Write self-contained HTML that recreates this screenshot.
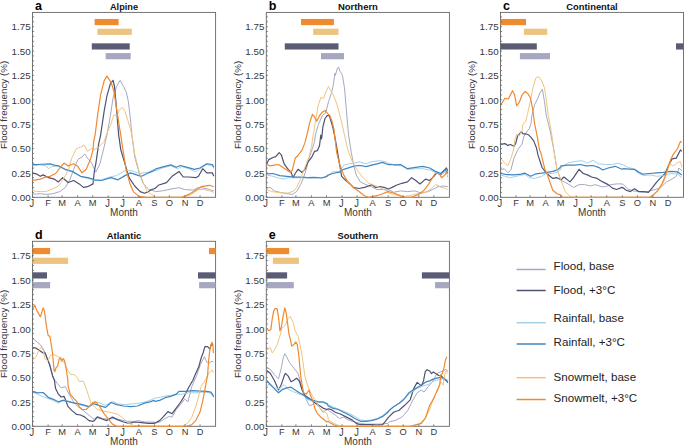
<!DOCTYPE html><html><head><meta charset="utf-8"><style>html,body{margin:0;padding:0;background:#fff;}svg{display:block}</style></head><body>
<svg width="685" height="446" viewBox="0 0 685 446" style="font-family:'Liberation Sans', sans-serif">
<rect width="685" height="446" fill="#fff"/>
<rect x="32.5" y="12.4" width="183.1" height="184.9" fill="none" stroke="#666" stroke-width="0.9"/>
<g clip-path="url(#clipa)">
<path d="M32.0,194.1 L36.2,194.1 L40.3,193.7 L45.9,194.4 L52.8,193.7 L59.8,191.6 L65.3,187.4 L69.5,180.5 L73.7,169.3 L77.9,159.6 L82.0,156.8 L84.8,154.1 L87.6,158.2 L91.7,163.1 L95.8,172.1 L99.9,163.8 L103.4,149.9 L106.9,135.1 L110.4,115.7 L113.1,97.6 L116.6,86.5 L120.1,80.3 L123.6,86.5 L126.3,92.1 L128.4,101.8 L130.5,119.9 L131.9,135.1 L134.7,156.8 L138.9,172.1 L143.0,183.2 L148.6,189.5 L154.0,190.9 L155.4,191.6 L162.3,190.9 L172.1,188.8 L179.0,187.7 L184.6,189.5 L192.9,190.2 L198.5,187.4 L204.0,188.1 L209.6,189.5 L213.8,190.9" fill="none" stroke="#a5a8c2" stroke-width="1.0" stroke-linejoin="round"/>
<path d="M32.0,173.2 L36.2,173.8 L40.3,176.3 L43.1,174.9 L48.7,177.7 L54.2,179.1 L58.4,181.9 L62.6,177.7 L68.1,182.5 L73.7,180.5 L79.2,183.9 L83.4,187.4 L87.6,186.7 L93.0,183.9 L94.4,170.7 L95.8,163.8 L98.6,144.3 L100.6,135.1 L104.1,111.5 L106.9,96.2 L110.4,83.7 L113.1,80.3 L114.5,86.5 L115.9,101.8 L117.3,118.5 L118.7,135.1 L120.8,149.9 L125.0,163.8 L129.1,177.7 L134.7,186.0 L140.2,191.6 L144.4,193.2 L148.6,191.6 L151.4,189.5 L154.0,188.8 L155.4,188.1 L158.2,185.3 L166.5,182.6 L172.1,176.3 L179.0,171.4 L183.2,177.0 L188.8,177.0 L195.7,177.7 L198.5,176.3 L202.7,168.7 L206.8,172.8 L212.4,172.8 L213.8,176.3" fill="none" stroke="#4e5172" stroke-width="1.2" stroke-linejoin="round"/>
<path d="M32.0,165.2 L40.3,164.9 L45.9,165.9 L48.7,168.7 L51.5,166.6 L58.4,165.9 L65.3,170.0 L72.3,171.8 L80.6,176.6 L87.6,178.4 L93.0,179.8 L94.4,180.5 L101.3,179.8 L109.7,177.0 L116.6,175.6 L125.0,170.7 L131.9,170.7 L138.9,173.5 L148.6,172.1 L154.0,169.3 L155.4,171.0 L162.3,168.0 L170.7,165.9 L177.6,168.7 L181.8,166.6 L188.8,168.7 L195.7,171.9 L201.3,168.0 L206.8,164.5 L212.4,165.9 L213.8,168.7" fill="none" stroke="#a6d0e6" stroke-width="1.0" stroke-linejoin="round"/>
<path d="M32.0,164.5 L37.6,164.5 L50.1,163.8 L54.2,165.2 L58.4,165.9 L65.3,169.3 L72.3,171.4 L80.6,176.3 L87.6,177.7 L93.0,179.1 L94.4,179.8 L101.3,180.5 L111.1,177.7 L118.0,179.8 L125.0,175.6 L130.5,172.8 L138.9,175.6 L141.6,176.3 L148.6,172.8 L154.0,170.7 L155.4,169.1 L161.0,167.3 L170.7,164.9 L176.2,167.3 L180.4,165.5 L187.4,167.3 L194.3,169.4 L199.9,168.0 L206.8,163.8 L212.4,164.5 L213.8,167.3" fill="none" stroke="#3f86c0" stroke-width="1.25" stroke-linejoin="round"/>
<path d="M32.0,190.2 L36.2,191.3 L40.3,191.6 L45.9,191.6 L52.8,188.8 L58.4,186.0 L62.6,180.5 L68.1,170.7 L72.3,156.8 L76.5,148.5 L80.6,147.1 L84.1,145.0 L87.6,151.3 L91.7,148.5 L93.7,149.9 L98.6,147.1 L104.1,141.6 L106.2,135.1 L110.4,125.4 L113.8,115.0 L116.6,115.7 L119.4,110.1 L122.2,107.3 L125.0,111.5 L127.7,119.9 L130.5,129.6 L131.9,135.1 L134.7,154.1 L138.9,170.7 L143.0,181.9 L147.2,191.6 L151.4,194.4 L154.0,195.7 L155.4,197.3 L181.8,197.3 L190.1,195.1 L198.5,189.5 L204.0,189.5 L209.6,190.9 L213.8,192.3" fill="none" stroke="#eec47e" stroke-width="1.0" stroke-linejoin="round"/>
<path d="M32.0,180.5 L36.2,179.8 L40.3,179.1 L45.9,177.0 L50.1,176.3 L55.6,173.5 L59.8,168.0 L64.0,163.1 L68.1,165.9 L73.7,163.8 L77.9,166.6 L82.0,172.8 L86.2,169.3 L90.4,159.6 L93.0,149.9 L93.7,141.6 L95.1,135.1 L97.9,112.9 L100.6,94.8 L104.1,80.9 L106.9,76.1 L111.1,82.3 L113.8,90.7 L116.6,108.7 L119.4,126.8 L120.8,135.1 L122.9,149.9 L126.3,170.7 L129.8,183.2 L133.3,191.6 L138.9,196.4 L145.8,197.3 L154.0,197.3 L155.4,197.3 L181.8,197.3 L188.8,194.4 L195.7,190.2 L201.3,186.7 L209.6,185.3 L213.8,186.7" fill="none" stroke="#ef8a30" stroke-width="1.2" stroke-linejoin="round"/>
</g>
<clipPath id="clipa"><rect x="32.5" y="12.4" width="183.1" height="185.3"/></clipPath>
<rect x="94.60" y="18.95" width="24.00" height="6.2" fill="#ef8a2f"/>
<rect x="97.40" y="28.70" width="34.40" height="6.2" fill="#edc47f"/>
<rect x="91.80" y="43.33" width="37.90" height="6.2" fill="#595c74"/>
<rect x="105.70" y="53.08" width="25.00" height="6.2" fill="#a5a8c0"/>
<line x1="32.5" y1="197.3" x2="34.1" y2="197.3" stroke="#666" stroke-width="0.8"/>
<line x1="32.5" y1="192.4" x2="34.1" y2="192.4" stroke="#666" stroke-width="0.8"/>
<line x1="32.5" y1="187.6" x2="34.1" y2="187.6" stroke="#666" stroke-width="0.8"/>
<line x1="32.5" y1="182.7" x2="34.1" y2="182.7" stroke="#666" stroke-width="0.8"/>
<line x1="32.5" y1="177.8" x2="34.1" y2="177.8" stroke="#666" stroke-width="0.8"/>
<line x1="32.5" y1="172.9" x2="34.1" y2="172.9" stroke="#666" stroke-width="0.8"/>
<line x1="32.5" y1="168.1" x2="34.1" y2="168.1" stroke="#666" stroke-width="0.8"/>
<line x1="32.5" y1="163.2" x2="34.1" y2="163.2" stroke="#666" stroke-width="0.8"/>
<line x1="32.5" y1="158.3" x2="34.1" y2="158.3" stroke="#666" stroke-width="0.8"/>
<line x1="32.5" y1="153.4" x2="34.1" y2="153.4" stroke="#666" stroke-width="0.8"/>
<line x1="32.5" y1="148.6" x2="34.1" y2="148.6" stroke="#666" stroke-width="0.8"/>
<line x1="32.5" y1="143.7" x2="34.1" y2="143.7" stroke="#666" stroke-width="0.8"/>
<line x1="32.5" y1="138.8" x2="34.1" y2="138.8" stroke="#666" stroke-width="0.8"/>
<line x1="32.5" y1="133.9" x2="34.1" y2="133.9" stroke="#666" stroke-width="0.8"/>
<line x1="32.5" y1="129.1" x2="34.1" y2="129.1" stroke="#666" stroke-width="0.8"/>
<line x1="32.5" y1="124.2" x2="34.1" y2="124.2" stroke="#666" stroke-width="0.8"/>
<line x1="32.5" y1="119.3" x2="34.1" y2="119.3" stroke="#666" stroke-width="0.8"/>
<line x1="32.5" y1="114.4" x2="34.1" y2="114.4" stroke="#666" stroke-width="0.8"/>
<line x1="32.5" y1="109.6" x2="34.1" y2="109.6" stroke="#666" stroke-width="0.8"/>
<line x1="32.5" y1="104.7" x2="34.1" y2="104.7" stroke="#666" stroke-width="0.8"/>
<line x1="32.5" y1="99.8" x2="34.1" y2="99.8" stroke="#666" stroke-width="0.8"/>
<line x1="32.5" y1="94.9" x2="34.1" y2="94.9" stroke="#666" stroke-width="0.8"/>
<line x1="32.5" y1="90.0" x2="34.1" y2="90.0" stroke="#666" stroke-width="0.8"/>
<line x1="32.5" y1="85.2" x2="34.1" y2="85.2" stroke="#666" stroke-width="0.8"/>
<line x1="32.5" y1="80.3" x2="34.1" y2="80.3" stroke="#666" stroke-width="0.8"/>
<line x1="32.5" y1="75.4" x2="34.1" y2="75.4" stroke="#666" stroke-width="0.8"/>
<line x1="32.5" y1="70.6" x2="34.1" y2="70.6" stroke="#666" stroke-width="0.8"/>
<line x1="32.5" y1="65.7" x2="34.1" y2="65.7" stroke="#666" stroke-width="0.8"/>
<line x1="32.5" y1="60.8" x2="34.1" y2="60.8" stroke="#666" stroke-width="0.8"/>
<line x1="32.5" y1="55.9" x2="34.1" y2="55.9" stroke="#666" stroke-width="0.8"/>
<line x1="32.5" y1="51.1" x2="34.1" y2="51.1" stroke="#666" stroke-width="0.8"/>
<line x1="32.5" y1="46.2" x2="34.1" y2="46.2" stroke="#666" stroke-width="0.8"/>
<line x1="32.5" y1="41.3" x2="34.1" y2="41.3" stroke="#666" stroke-width="0.8"/>
<line x1="32.5" y1="36.4" x2="34.1" y2="36.4" stroke="#666" stroke-width="0.8"/>
<line x1="32.5" y1="31.5" x2="34.1" y2="31.5" stroke="#666" stroke-width="0.8"/>
<line x1="32.5" y1="26.7" x2="34.1" y2="26.7" stroke="#666" stroke-width="0.8"/>
<line x1="32.5" y1="21.8" x2="34.1" y2="21.8" stroke="#666" stroke-width="0.8"/>
<line x1="32.5" y1="16.9" x2="34.1" y2="16.9" stroke="#666" stroke-width="0.8"/>
<text x="30.6" y="201.0" font-size="9.8" fill="#383838" text-anchor="end">0.00</text>
<text x="30.6" y="176.6" font-size="9.8" fill="#383838" text-anchor="end">0.25</text>
<text x="30.6" y="152.2" font-size="9.8" fill="#383838" text-anchor="end">0.50</text>
<text x="30.6" y="127.9" font-size="9.8" fill="#383838" text-anchor="end">0.75</text>
<text x="30.6" y="103.5" font-size="9.8" fill="#383838" text-anchor="end">1.00</text>
<text x="30.6" y="79.1" font-size="9.8" fill="#383838" text-anchor="end">1.25</text>
<text x="30.6" y="54.8" font-size="9.8" fill="#383838" text-anchor="end">1.50</text>
<text x="30.6" y="30.4" font-size="9.8" fill="#383838" text-anchor="end">1.75</text>
<line x1="32.5" y1="197.3" x2="32.5" y2="195.3" stroke="#666" stroke-width="0.8"/>
<text transform="translate(0,199.80) scale(1,1.24) translate(0,-199.80)" x="31.9" y="205.9" font-size="9.3" fill="#383838" text-anchor="middle">J</text>
<line x1="48.1" y1="197.3" x2="48.1" y2="195.3" stroke="#666" stroke-width="0.8"/>
<text x="48.1" y="205.9" font-size="9.3" fill="#383838" text-anchor="middle">F</text>
<line x1="62.1" y1="197.3" x2="62.1" y2="195.3" stroke="#666" stroke-width="0.8"/>
<text x="62.1" y="205.9" font-size="9.3" fill="#383838" text-anchor="middle">M</text>
<line x1="77.6" y1="197.3" x2="77.6" y2="195.3" stroke="#666" stroke-width="0.8"/>
<text x="77.6" y="205.9" font-size="9.3" fill="#383838" text-anchor="middle">A</text>
<line x1="92.7" y1="197.3" x2="92.7" y2="195.3" stroke="#666" stroke-width="0.8"/>
<text x="92.7" y="205.9" font-size="9.3" fill="#383838" text-anchor="middle">M</text>
<line x1="108.2" y1="197.3" x2="108.2" y2="195.3" stroke="#666" stroke-width="0.8"/>
<text transform="translate(0,199.80) scale(1,1.24) translate(0,-199.80)" x="107.6" y="205.9" font-size="9.3" fill="#383838" text-anchor="middle">J</text>
<line x1="123.3" y1="197.3" x2="123.3" y2="195.3" stroke="#666" stroke-width="0.8"/>
<text transform="translate(0,199.80) scale(1,1.24) translate(0,-199.80)" x="122.7" y="205.9" font-size="9.3" fill="#383838" text-anchor="middle">J</text>
<line x1="138.8" y1="197.3" x2="138.8" y2="195.3" stroke="#666" stroke-width="0.8"/>
<text x="138.8" y="205.9" font-size="9.3" fill="#383838" text-anchor="middle">A</text>
<line x1="154.4" y1="197.3" x2="154.4" y2="195.3" stroke="#666" stroke-width="0.8"/>
<text x="154.4" y="205.9" font-size="9.3" fill="#383838" text-anchor="middle">S</text>
<line x1="169.4" y1="197.3" x2="169.4" y2="195.3" stroke="#666" stroke-width="0.8"/>
<text x="169.4" y="205.9" font-size="9.3" fill="#383838" text-anchor="middle">O</text>
<line x1="185.0" y1="197.3" x2="185.0" y2="195.3" stroke="#666" stroke-width="0.8"/>
<text x="185.0" y="205.9" font-size="9.3" fill="#383838" text-anchor="middle">N</text>
<line x1="200.0" y1="197.3" x2="200.0" y2="195.3" stroke="#666" stroke-width="0.8"/>
<text x="200.0" y="205.9" font-size="9.3" fill="#383838" text-anchor="middle">D</text>
<text x="124.0" y="215.9" font-size="10" fill="#383838" text-anchor="middle">Month</text>
<text transform="translate(7.4,104.9) rotate(-90)" font-size="9.8" fill="#383838" text-anchor="middle">Flood frequency (%)</text>
<text x="124.0" y="9.6" font-size="8.2" font-weight="bold" fill="#111" text-anchor="middle" textLength="27.99" lengthAdjust="spacingAndGlyphs">Alpine</text>
<text x="35.0" y="10.4" font-size="12.5" font-weight="bold" fill="#000">a</text>
<rect x="266.3" y="12.4" width="183.09999999999997" height="184.9" fill="none" stroke="#666" stroke-width="0.9"/>
<g clip-path="url(#clipb)">
<path d="M266.7,188.1 L270.2,187.4 L274.3,190.9 L279.9,192.3 L286.8,193.7 L292.4,194.4 L296.6,191.6 L300.7,184.6 L303.5,177.7 L306.3,169.3 L309.1,158.2 L311.9,149.9 L314.6,141.6 L315.3,135.1 L318.1,125.4 L322.2,115.7 L325.7,112.9 L328.5,101.8 L331.3,93.5 L333.3,85.1 L335.0,73.1 L335.4,75.4 L337.1,69.0 L338.5,66.9 L339.9,71.1 L341.3,73.1 L342.4,75.4 L344.5,87.9 L345.9,104.6 L347.2,119.9 L348.6,135.1 L351.3,152.7 L354.1,166.6 L356.2,174.9 L360.3,181.9 L365.9,184.6 L371.5,186.7 L377.0,189.5 L382.6,189.5 L388.0,190.2 L389.4,189.9 L393.6,192.3 L400.5,190.9 L407.5,191.6 L414.4,190.9 L421.4,193.0 L428.3,191.6 L433.9,188.8 L438.0,186.7 L443.6,186.0 L447.8,186.7" fill="none" stroke="#a5a8c2" stroke-width="1.0" stroke-linejoin="round"/>
<path d="M266.7,163.8 L268.8,159.6 L272.9,157.5 L275.7,156.6 L279.2,152.7 L281.3,154.8 L284.1,163.8 L288.2,169.3 L291.0,172.1 L293.1,177.7 L295.2,173.5 L298.0,169.3 L302.1,172.4 L304.9,169.3 L307.7,162.4 L311.9,156.8 L314.6,151.3 L317.4,150.6 L319.5,145.7 L320.8,135.1 L321.6,138.8 L322.9,126.8 L325.0,118.5 L327.1,115.7 L329.2,115.4 L330.6,119.9 L332.7,126.8 L334.5,135.1 L336.7,147.1 L338.8,159.6 L340.2,168.0 L341.6,176.3 L345.1,179.8 L349.2,183.2 L353.4,187.4 L359.0,188.5 L364.5,187.4 L368.7,186.0 L371.5,184.6 L375.6,187.4 L379.8,186.7 L384.0,187.4 L388.0,188.8 L389.4,188.5 L392.2,187.4 L396.3,185.3 L401.9,183.3 L407.5,181.9 L411.6,177.7 L415.8,180.5 L420.0,184.0 L425.5,179.1 L429.7,180.5 L433.9,176.3 L436.7,172.8 L440.8,174.9 L446.4,168.0 L447.8,170.8" fill="none" stroke="#4e5172" stroke-width="1.2" stroke-linejoin="round"/>
<path d="M266.7,174.9 L272.9,176.3 L279.9,178.4 L284.1,179.1 L288.2,177.7 L293.8,177.7 L300.7,177.7 L307.7,178.0 L314.6,177.7 L321.6,178.1 L327.0,176.6 L332.6,171.8 L339.5,171.4 L343.7,165.2 L349.2,163.8 L354.8,163.1 L359.0,161.7 L365.9,163.8 L371.5,161.7 L379.8,160.7 L385.4,161.7 L388.0,163.1 L389.4,163.4 L395.0,165.2 L401.9,165.9 L407.5,169.4 L415.8,168.7 L422.8,168.7 L429.7,170.1 L435.3,172.4 L440.8,174.2 L446.4,172.1 L447.8,177.7" fill="none" stroke="#a6d0e6" stroke-width="1.0" stroke-linejoin="round"/>
<path d="M266.7,173.8 L272.9,173.5 L279.9,175.6 L286.8,176.3 L293.8,177.0 L300.7,177.0 L307.7,177.7 L314.6,177.4 L321.6,178.0 L327.0,176.3 L327.0,175.6 L332.6,173.5 L339.5,172.1 L343.7,169.3 L349.2,167.7 L354.8,165.9 L360.3,165.5 L365.9,166.6 L371.5,165.2 L377.0,163.8 L382.6,162.4 L388.0,164.5 L389.4,164.5 L395.0,164.9 L400.5,164.5 L407.5,168.7 L415.8,167.3 L422.8,166.3 L429.7,168.0 L435.3,171.4 L440.8,173.5 L445.0,169.4 L447.8,173.5" fill="none" stroke="#3f86c0" stroke-width="1.25" stroke-linejoin="round"/>
<path d="M266.7,189.5 L271.6,191.6 L277.1,192.3 L282.7,193.0 L288.2,193.0 L293.8,190.9 L296.6,187.4 L299.3,181.9 L302.1,174.9 L306.3,163.8 L309.1,156.8 L311.9,144.3 L313.2,135.1 L315.3,122.6 L318.1,106.0 L320.8,97.6 L323.6,98.3 L325.7,92.1 L328.5,86.5 L330.6,90.7 L333.3,94.8 L336.1,101.8 L338.9,111.5 L341.7,122.6 L344.5,135.1 L347.8,149.9 L352.0,161.0 L357.6,170.7 L363.1,177.7 L368.7,183.2 L374.2,185.3 L379.8,187.4 L384.0,189.5 L388.0,192.3 L389.4,193.3 L393.6,194.4 L401.9,196.5 L408.9,195.8 L415.8,194.1 L422.8,193.0 L426.9,191.6 L431.1,188.8 L435.3,184.7 L438.0,185.3 L440.8,187.4 L445.0,188.1 L447.8,189.5" fill="none" stroke="#eec47e" stroke-width="1.0" stroke-linejoin="round"/>
<path d="M266.7,164.5 L270.2,165.9 L274.3,165.2 L278.5,164.5 L282.7,167.3 L286.8,170.0 L290.3,172.4 L292.4,170.0 L295.2,158.2 L298.0,155.5 L302.1,149.9 L304.9,142.9 L306.9,135.1 L309.7,122.6 L312.5,114.3 L314.6,117.1 L316.7,121.2 L319.5,115.7 L322.2,112.2 L325.0,110.4 L327.8,113.6 L329.9,115.7 L332.0,121.2 L334.0,129.6 L336.7,152.7 L339.5,163.8 L343.7,174.9 L347.8,181.9 L353.4,187.4 L359.0,191.6 L364.5,195.7 L368.7,197.3 L377.0,195.7 L382.6,193.7 L388.0,191.6 L389.4,191.9 L393.6,193.0 L399.1,195.1 L404.7,197.3 L411.6,197.3 L418.6,194.4 L424.1,190.2 L428.3,184.7 L432.5,177.7 L435.3,173.5 L439.4,173.5 L441.5,177.7 L445.0,174.9 L447.8,170.8" fill="none" stroke="#ef8a30" stroke-width="1.2" stroke-linejoin="round"/>
</g>
<clipPath id="clipb"><rect x="266.3" y="12.4" width="183.09999999999997" height="185.3"/></clipPath>
<rect x="301.00" y="18.95" width="32.90" height="6.2" fill="#ef8a2f"/>
<rect x="313.20" y="28.70" width="25.30" height="6.2" fill="#edc47f"/>
<rect x="284.80" y="43.33" width="53.70" height="6.2" fill="#595c74"/>
<rect x="321.00" y="53.08" width="23.00" height="6.2" fill="#a5a8c0"/>
<line x1="266.3" y1="197.3" x2="267.90000000000003" y2="197.3" stroke="#666" stroke-width="0.8"/>
<line x1="266.3" y1="192.4" x2="267.90000000000003" y2="192.4" stroke="#666" stroke-width="0.8"/>
<line x1="266.3" y1="187.6" x2="267.90000000000003" y2="187.6" stroke="#666" stroke-width="0.8"/>
<line x1="266.3" y1="182.7" x2="267.90000000000003" y2="182.7" stroke="#666" stroke-width="0.8"/>
<line x1="266.3" y1="177.8" x2="267.90000000000003" y2="177.8" stroke="#666" stroke-width="0.8"/>
<line x1="266.3" y1="172.9" x2="267.90000000000003" y2="172.9" stroke="#666" stroke-width="0.8"/>
<line x1="266.3" y1="168.1" x2="267.90000000000003" y2="168.1" stroke="#666" stroke-width="0.8"/>
<line x1="266.3" y1="163.2" x2="267.90000000000003" y2="163.2" stroke="#666" stroke-width="0.8"/>
<line x1="266.3" y1="158.3" x2="267.90000000000003" y2="158.3" stroke="#666" stroke-width="0.8"/>
<line x1="266.3" y1="153.4" x2="267.90000000000003" y2="153.4" stroke="#666" stroke-width="0.8"/>
<line x1="266.3" y1="148.6" x2="267.90000000000003" y2="148.6" stroke="#666" stroke-width="0.8"/>
<line x1="266.3" y1="143.7" x2="267.90000000000003" y2="143.7" stroke="#666" stroke-width="0.8"/>
<line x1="266.3" y1="138.8" x2="267.90000000000003" y2="138.8" stroke="#666" stroke-width="0.8"/>
<line x1="266.3" y1="133.9" x2="267.90000000000003" y2="133.9" stroke="#666" stroke-width="0.8"/>
<line x1="266.3" y1="129.1" x2="267.90000000000003" y2="129.1" stroke="#666" stroke-width="0.8"/>
<line x1="266.3" y1="124.2" x2="267.90000000000003" y2="124.2" stroke="#666" stroke-width="0.8"/>
<line x1="266.3" y1="119.3" x2="267.90000000000003" y2="119.3" stroke="#666" stroke-width="0.8"/>
<line x1="266.3" y1="114.4" x2="267.90000000000003" y2="114.4" stroke="#666" stroke-width="0.8"/>
<line x1="266.3" y1="109.6" x2="267.90000000000003" y2="109.6" stroke="#666" stroke-width="0.8"/>
<line x1="266.3" y1="104.7" x2="267.90000000000003" y2="104.7" stroke="#666" stroke-width="0.8"/>
<line x1="266.3" y1="99.8" x2="267.90000000000003" y2="99.8" stroke="#666" stroke-width="0.8"/>
<line x1="266.3" y1="94.9" x2="267.90000000000003" y2="94.9" stroke="#666" stroke-width="0.8"/>
<line x1="266.3" y1="90.0" x2="267.90000000000003" y2="90.0" stroke="#666" stroke-width="0.8"/>
<line x1="266.3" y1="85.2" x2="267.90000000000003" y2="85.2" stroke="#666" stroke-width="0.8"/>
<line x1="266.3" y1="80.3" x2="267.90000000000003" y2="80.3" stroke="#666" stroke-width="0.8"/>
<line x1="266.3" y1="75.4" x2="267.90000000000003" y2="75.4" stroke="#666" stroke-width="0.8"/>
<line x1="266.3" y1="70.6" x2="267.90000000000003" y2="70.6" stroke="#666" stroke-width="0.8"/>
<line x1="266.3" y1="65.7" x2="267.90000000000003" y2="65.7" stroke="#666" stroke-width="0.8"/>
<line x1="266.3" y1="60.8" x2="267.90000000000003" y2="60.8" stroke="#666" stroke-width="0.8"/>
<line x1="266.3" y1="55.9" x2="267.90000000000003" y2="55.9" stroke="#666" stroke-width="0.8"/>
<line x1="266.3" y1="51.1" x2="267.90000000000003" y2="51.1" stroke="#666" stroke-width="0.8"/>
<line x1="266.3" y1="46.2" x2="267.90000000000003" y2="46.2" stroke="#666" stroke-width="0.8"/>
<line x1="266.3" y1="41.3" x2="267.90000000000003" y2="41.3" stroke="#666" stroke-width="0.8"/>
<line x1="266.3" y1="36.4" x2="267.90000000000003" y2="36.4" stroke="#666" stroke-width="0.8"/>
<line x1="266.3" y1="31.5" x2="267.90000000000003" y2="31.5" stroke="#666" stroke-width="0.8"/>
<line x1="266.3" y1="26.7" x2="267.90000000000003" y2="26.7" stroke="#666" stroke-width="0.8"/>
<line x1="266.3" y1="21.8" x2="267.90000000000003" y2="21.8" stroke="#666" stroke-width="0.8"/>
<line x1="266.3" y1="16.9" x2="267.90000000000003" y2="16.9" stroke="#666" stroke-width="0.8"/>
<text x="264.4" y="201.0" font-size="9.8" fill="#383838" text-anchor="end">0.00</text>
<text x="264.4" y="176.6" font-size="9.8" fill="#383838" text-anchor="end">0.25</text>
<text x="264.4" y="152.2" font-size="9.8" fill="#383838" text-anchor="end">0.50</text>
<text x="264.4" y="127.9" font-size="9.8" fill="#383838" text-anchor="end">0.75</text>
<text x="264.4" y="103.5" font-size="9.8" fill="#383838" text-anchor="end">1.00</text>
<text x="264.4" y="79.1" font-size="9.8" fill="#383838" text-anchor="end">1.25</text>
<text x="264.4" y="54.8" font-size="9.8" fill="#383838" text-anchor="end">1.50</text>
<text x="264.4" y="30.4" font-size="9.8" fill="#383838" text-anchor="end">1.75</text>
<line x1="266.3" y1="197.3" x2="266.3" y2="195.3" stroke="#666" stroke-width="0.8"/>
<text transform="translate(0,199.80) scale(1,1.24) translate(0,-199.80)" x="265.7" y="205.9" font-size="9.3" fill="#383838" text-anchor="middle">J</text>
<line x1="281.9" y1="197.3" x2="281.9" y2="195.3" stroke="#666" stroke-width="0.8"/>
<text x="281.9" y="205.9" font-size="9.3" fill="#383838" text-anchor="middle">F</text>
<line x1="295.9" y1="197.3" x2="295.9" y2="195.3" stroke="#666" stroke-width="0.8"/>
<text x="295.9" y="205.9" font-size="9.3" fill="#383838" text-anchor="middle">M</text>
<line x1="311.4" y1="197.3" x2="311.4" y2="195.3" stroke="#666" stroke-width="0.8"/>
<text x="311.4" y="205.9" font-size="9.3" fill="#383838" text-anchor="middle">A</text>
<line x1="326.5" y1="197.3" x2="326.5" y2="195.3" stroke="#666" stroke-width="0.8"/>
<text x="326.5" y="205.9" font-size="9.3" fill="#383838" text-anchor="middle">M</text>
<line x1="342.0" y1="197.3" x2="342.0" y2="195.3" stroke="#666" stroke-width="0.8"/>
<text transform="translate(0,199.80) scale(1,1.24) translate(0,-199.80)" x="341.4" y="205.9" font-size="9.3" fill="#383838" text-anchor="middle">J</text>
<line x1="357.1" y1="197.3" x2="357.1" y2="195.3" stroke="#666" stroke-width="0.8"/>
<text transform="translate(0,199.80) scale(1,1.24) translate(0,-199.80)" x="356.5" y="205.9" font-size="9.3" fill="#383838" text-anchor="middle">J</text>
<line x1="372.6" y1="197.3" x2="372.6" y2="195.3" stroke="#666" stroke-width="0.8"/>
<text x="372.6" y="205.9" font-size="9.3" fill="#383838" text-anchor="middle">A</text>
<line x1="388.2" y1="197.3" x2="388.2" y2="195.3" stroke="#666" stroke-width="0.8"/>
<text x="388.2" y="205.9" font-size="9.3" fill="#383838" text-anchor="middle">S</text>
<line x1="403.2" y1="197.3" x2="403.2" y2="195.3" stroke="#666" stroke-width="0.8"/>
<text x="403.2" y="205.9" font-size="9.3" fill="#383838" text-anchor="middle">O</text>
<line x1="418.8" y1="197.3" x2="418.8" y2="195.3" stroke="#666" stroke-width="0.8"/>
<text x="418.8" y="205.9" font-size="9.3" fill="#383838" text-anchor="middle">N</text>
<line x1="433.8" y1="197.3" x2="433.8" y2="195.3" stroke="#666" stroke-width="0.8"/>
<text x="433.8" y="205.9" font-size="9.3" fill="#383838" text-anchor="middle">D</text>
<text x="357.9" y="215.9" font-size="10" fill="#383838" text-anchor="middle">Month</text>
<text transform="translate(241.2,104.9) rotate(-90)" font-size="9.8" fill="#383838" text-anchor="middle">Flood frequency (%)</text>
<text x="357.9" y="9.6" font-size="8.2" font-weight="bold" fill="#111" text-anchor="middle" textLength="39.96" lengthAdjust="spacingAndGlyphs">Northern</text>
<text x="268.8" y="10.4" font-size="12.5" font-weight="bold" fill="#000">b</text>
<rect x="500.5" y="12.4" width="183.0" height="184.9" fill="none" stroke="#666" stroke-width="0.9"/>
<g clip-path="url(#clipc)">
<path d="M500.7,170.0 L504.2,168.7 L508.3,172.8 L511.1,169.3 L513.9,158.2 L517.6,150.0 L522.0,144.1 L523.8,136.9 L525.6,133.3 L529.2,128.8 L531.0,123.5 L531.9,115.4 L534.7,104.6 L537.5,99.0 L540.3,92.1 L542.4,89.3 L544.5,101.8 L546.2,115.0 L550.2,131.2 L553.6,148.7 L556.9,168.9 L561.0,180.5 L565.2,182.5 L569.3,184.6 L573.5,187.4 L579.1,184.6 L584.6,184.6 L590.2,186.0 L595.7,184.6 L601.3,186.7 L605.5,186.7 L611.0,184.6 L616.6,183.9 L622.0,183.9 L623.4,184.7 L627.6,188.8 L633.1,190.9 L638.7,191.6 L644.2,192.3 L649.8,190.9 L655.4,189.5 L660.9,187.4 L666.5,181.9 L672.0,179.1 L676.2,176.3 L679.0,168.0 L681.8,170.8" fill="none" stroke="#a5a8c2" stroke-width="1.0" stroke-linejoin="round"/>
<path d="M500.7,144.3 L505.0,143.6 L507.7,145.4 L510.4,144.5 L514.0,146.3 L515.8,143.2 L517.6,136.0 L519.3,134.2 L521.6,131.5 L522.9,133.8 L525.6,133.8 L528.3,134.7 L531.0,137.4 L533.7,140.9 L536.4,147.7 L538.1,155.4 L542.1,167.5 L546.2,172.9 L550.0,176.3 L552.8,178.4 L557.0,177.7 L561.0,179.8 L563.8,177.0 L566.6,179.1 L570.0,181.9 L573.5,177.7 L579.1,169.3 L583.2,173.5 L587.4,174.9 L591.6,177.0 L597.1,178.4 L602.7,181.9 L608.2,184.6 L612.4,188.1 L616.6,189.5 L622.0,187.4 L623.4,188.1 L626.2,190.2 L630.3,191.6 L634.5,188.8 L638.7,191.6 L644.2,191.6 L648.4,192.3 L652.6,187.4 L656.8,181.9 L660.9,177.7 L665.1,173.5 L668.6,165.2 L672.0,158.9 L676.2,158.2 L680.4,149.9 L681.8,151.3" fill="none" stroke="#4e5172" stroke-width="1.2" stroke-linejoin="round"/>
<path d="M500.7,174.9 L509.7,177.7 L516.7,176.3 L525.0,174.2 L529.2,177.7 L534.7,178.4 L541.7,176.3 L545.9,173.5 L552.8,173.5 L558.4,171.4 L561.0,169.3 L561.0,167.3 L567.9,163.1 L573.5,161.7 L581.8,160.7 L587.4,163.1 L593.0,160.3 L598.5,163.8 L605.5,164.5 L612.4,164.5 L618.0,163.1 L622.0,164.5 L623.4,164.9 L627.6,167.3 L634.5,169.1 L638.7,173.5 L644.2,175.6 L649.8,174.9 L656.8,176.3 L663.7,175.6 L670.7,173.5 L677.6,174.2 L681.8,177.7" fill="none" stroke="#a6d0e6" stroke-width="1.0" stroke-linejoin="round"/>
<path d="M500.7,173.5 L506.9,174.6 L513.9,174.9 L520.8,174.2 L525.0,173.2 L530.6,176.3 L536.1,173.8 L541.7,173.2 L547.2,172.4 L552.8,171.4 L558.4,169.3 L561.0,166.6 L561.0,165.9 L567.9,165.2 L574.9,165.2 L580.5,164.5 L586.0,165.9 L593.0,165.5 L598.5,167.3 L602.7,170.0 L608.2,168.0 L615.2,166.3 L622.0,169.3 L623.4,168.7 L629.0,169.1 L634.5,169.4 L638.7,172.1 L642.9,174.2 L649.8,173.5 L656.8,172.8 L663.7,172.4 L670.7,171.4 L677.6,171.9 L681.8,174.9" fill="none" stroke="#3f86c0" stroke-width="1.25" stroke-linejoin="round"/>
<path d="M500.7,158.2 L504.2,162.4 L507.6,165.9 L511.1,158.2 L513.5,150.0 L514.9,139.6 L516.7,134.2 L519.3,136.0 L522.0,130.6 L522.9,124.3 L525.6,121.7 L527.4,114.5 L533.3,86.5 L536.1,77.5 L538.9,76.8 L541.7,80.9 L544.5,87.9 L546.5,101.8 L548.2,115.0 L551.5,132.5 L553.6,148.7 L556.9,168.9 L559.0,175.1 L565.2,191.6 L569.3,195.7 L573.5,197.3 L622.0,197.3 L623.4,197.3 L649.8,197.3 L654.0,194.4 L659.5,188.8 L663.7,181.9 L666.5,173.5 L669.3,163.8 L673.4,165.9 L677.6,162.4 L680.4,161.7 L681.8,167.3" fill="none" stroke="#eec47e" stroke-width="1.0" stroke-linejoin="round"/>
<path d="M500.7,104.6 L502.8,101.8 L504.9,98.3 L508.3,99.0 L512.5,90.7 L514.6,94.8 L516.7,106.0 L519.5,101.8 L522.2,94.8 L525.0,91.4 L527.8,93.5 L530.6,98.3 L532.8,110.0 L534.6,123.5 L537.3,136.9 L539.5,150.0 L540.8,152.7 L544.8,168.9 L547.5,175.1 L552.8,190.2 L557.0,193.7 L561.0,195.1 L562.4,197.3 L622.0,197.3 L623.4,197.3 L649.8,197.3 L654.0,194.4 L658.1,190.2 L662.3,183.3 L665.1,176.3 L667.9,168.0 L670.7,159.6 L673.4,154.1 L677.6,148.5 L680.4,141.6 L681.8,142.3" fill="none" stroke="#ef8a30" stroke-width="1.2" stroke-linejoin="round"/>
</g>
<clipPath id="clipc"><rect x="500.5" y="12.4" width="183.0" height="185.3"/></clipPath>
<rect x="500.50" y="18.95" width="25.50" height="6.2" fill="#ef8a2f"/>
<rect x="523.90" y="28.70" width="23.30" height="6.2" fill="#edc47f"/>
<rect x="676.00" y="43.33" width="7.50" height="6.2" fill="#595c74"/>
<rect x="500.50" y="43.33" width="36.30" height="6.2" fill="#595c74"/>
<rect x="519.90" y="53.08" width="30.10" height="6.2" fill="#a5a8c0"/>
<line x1="500.5" y1="197.3" x2="502.1" y2="197.3" stroke="#666" stroke-width="0.8"/>
<line x1="500.5" y1="192.4" x2="502.1" y2="192.4" stroke="#666" stroke-width="0.8"/>
<line x1="500.5" y1="187.6" x2="502.1" y2="187.6" stroke="#666" stroke-width="0.8"/>
<line x1="500.5" y1="182.7" x2="502.1" y2="182.7" stroke="#666" stroke-width="0.8"/>
<line x1="500.5" y1="177.8" x2="502.1" y2="177.8" stroke="#666" stroke-width="0.8"/>
<line x1="500.5" y1="172.9" x2="502.1" y2="172.9" stroke="#666" stroke-width="0.8"/>
<line x1="500.5" y1="168.1" x2="502.1" y2="168.1" stroke="#666" stroke-width="0.8"/>
<line x1="500.5" y1="163.2" x2="502.1" y2="163.2" stroke="#666" stroke-width="0.8"/>
<line x1="500.5" y1="158.3" x2="502.1" y2="158.3" stroke="#666" stroke-width="0.8"/>
<line x1="500.5" y1="153.4" x2="502.1" y2="153.4" stroke="#666" stroke-width="0.8"/>
<line x1="500.5" y1="148.6" x2="502.1" y2="148.6" stroke="#666" stroke-width="0.8"/>
<line x1="500.5" y1="143.7" x2="502.1" y2="143.7" stroke="#666" stroke-width="0.8"/>
<line x1="500.5" y1="138.8" x2="502.1" y2="138.8" stroke="#666" stroke-width="0.8"/>
<line x1="500.5" y1="133.9" x2="502.1" y2="133.9" stroke="#666" stroke-width="0.8"/>
<line x1="500.5" y1="129.1" x2="502.1" y2="129.1" stroke="#666" stroke-width="0.8"/>
<line x1="500.5" y1="124.2" x2="502.1" y2="124.2" stroke="#666" stroke-width="0.8"/>
<line x1="500.5" y1="119.3" x2="502.1" y2="119.3" stroke="#666" stroke-width="0.8"/>
<line x1="500.5" y1="114.4" x2="502.1" y2="114.4" stroke="#666" stroke-width="0.8"/>
<line x1="500.5" y1="109.6" x2="502.1" y2="109.6" stroke="#666" stroke-width="0.8"/>
<line x1="500.5" y1="104.7" x2="502.1" y2="104.7" stroke="#666" stroke-width="0.8"/>
<line x1="500.5" y1="99.8" x2="502.1" y2="99.8" stroke="#666" stroke-width="0.8"/>
<line x1="500.5" y1="94.9" x2="502.1" y2="94.9" stroke="#666" stroke-width="0.8"/>
<line x1="500.5" y1="90.0" x2="502.1" y2="90.0" stroke="#666" stroke-width="0.8"/>
<line x1="500.5" y1="85.2" x2="502.1" y2="85.2" stroke="#666" stroke-width="0.8"/>
<line x1="500.5" y1="80.3" x2="502.1" y2="80.3" stroke="#666" stroke-width="0.8"/>
<line x1="500.5" y1="75.4" x2="502.1" y2="75.4" stroke="#666" stroke-width="0.8"/>
<line x1="500.5" y1="70.6" x2="502.1" y2="70.6" stroke="#666" stroke-width="0.8"/>
<line x1="500.5" y1="65.7" x2="502.1" y2="65.7" stroke="#666" stroke-width="0.8"/>
<line x1="500.5" y1="60.8" x2="502.1" y2="60.8" stroke="#666" stroke-width="0.8"/>
<line x1="500.5" y1="55.9" x2="502.1" y2="55.9" stroke="#666" stroke-width="0.8"/>
<line x1="500.5" y1="51.1" x2="502.1" y2="51.1" stroke="#666" stroke-width="0.8"/>
<line x1="500.5" y1="46.2" x2="502.1" y2="46.2" stroke="#666" stroke-width="0.8"/>
<line x1="500.5" y1="41.3" x2="502.1" y2="41.3" stroke="#666" stroke-width="0.8"/>
<line x1="500.5" y1="36.4" x2="502.1" y2="36.4" stroke="#666" stroke-width="0.8"/>
<line x1="500.5" y1="31.5" x2="502.1" y2="31.5" stroke="#666" stroke-width="0.8"/>
<line x1="500.5" y1="26.7" x2="502.1" y2="26.7" stroke="#666" stroke-width="0.8"/>
<line x1="500.5" y1="21.8" x2="502.1" y2="21.8" stroke="#666" stroke-width="0.8"/>
<line x1="500.5" y1="16.9" x2="502.1" y2="16.9" stroke="#666" stroke-width="0.8"/>
<text x="498.6" y="201.0" font-size="9.8" fill="#383838" text-anchor="end">0.00</text>
<text x="498.6" y="176.6" font-size="9.8" fill="#383838" text-anchor="end">0.25</text>
<text x="498.6" y="152.2" font-size="9.8" fill="#383838" text-anchor="end">0.50</text>
<text x="498.6" y="127.9" font-size="9.8" fill="#383838" text-anchor="end">0.75</text>
<text x="498.6" y="103.5" font-size="9.8" fill="#383838" text-anchor="end">1.00</text>
<text x="498.6" y="79.1" font-size="9.8" fill="#383838" text-anchor="end">1.25</text>
<text x="498.6" y="54.8" font-size="9.8" fill="#383838" text-anchor="end">1.50</text>
<text x="498.6" y="30.4" font-size="9.8" fill="#383838" text-anchor="end">1.75</text>
<line x1="500.5" y1="197.3" x2="500.5" y2="195.3" stroke="#666" stroke-width="0.8"/>
<text transform="translate(0,199.80) scale(1,1.24) translate(0,-199.80)" x="499.9" y="205.9" font-size="9.3" fill="#383838" text-anchor="middle">J</text>
<line x1="516.0" y1="197.3" x2="516.0" y2="195.3" stroke="#666" stroke-width="0.8"/>
<text x="516.0" y="205.9" font-size="9.3" fill="#383838" text-anchor="middle">F</text>
<line x1="530.1" y1="197.3" x2="530.1" y2="195.3" stroke="#666" stroke-width="0.8"/>
<text x="530.1" y="205.9" font-size="9.3" fill="#383838" text-anchor="middle">M</text>
<line x1="545.6" y1="197.3" x2="545.6" y2="195.3" stroke="#666" stroke-width="0.8"/>
<text x="545.6" y="205.9" font-size="9.3" fill="#383838" text-anchor="middle">A</text>
<line x1="560.7" y1="197.3" x2="560.7" y2="195.3" stroke="#666" stroke-width="0.8"/>
<text x="560.7" y="205.9" font-size="9.3" fill="#383838" text-anchor="middle">M</text>
<line x1="576.2" y1="197.3" x2="576.2" y2="195.3" stroke="#666" stroke-width="0.8"/>
<text transform="translate(0,199.80) scale(1,1.24) translate(0,-199.80)" x="575.6" y="205.9" font-size="9.3" fill="#383838" text-anchor="middle">J</text>
<line x1="591.2" y1="197.3" x2="591.2" y2="195.3" stroke="#666" stroke-width="0.8"/>
<text transform="translate(0,199.80) scale(1,1.24) translate(0,-199.80)" x="590.6" y="205.9" font-size="9.3" fill="#383838" text-anchor="middle">J</text>
<line x1="606.8" y1="197.3" x2="606.8" y2="195.3" stroke="#666" stroke-width="0.8"/>
<text x="606.8" y="205.9" font-size="9.3" fill="#383838" text-anchor="middle">A</text>
<line x1="622.3" y1="197.3" x2="622.3" y2="195.3" stroke="#666" stroke-width="0.8"/>
<text x="622.3" y="205.9" font-size="9.3" fill="#383838" text-anchor="middle">S</text>
<line x1="637.4" y1="197.3" x2="637.4" y2="195.3" stroke="#666" stroke-width="0.8"/>
<text x="637.4" y="205.9" font-size="9.3" fill="#383838" text-anchor="middle">O</text>
<line x1="652.9" y1="197.3" x2="652.9" y2="195.3" stroke="#666" stroke-width="0.8"/>
<text x="652.9" y="205.9" font-size="9.3" fill="#383838" text-anchor="middle">N</text>
<line x1="668.0" y1="197.3" x2="668.0" y2="195.3" stroke="#666" stroke-width="0.8"/>
<text x="668.0" y="205.9" font-size="9.3" fill="#383838" text-anchor="middle">D</text>
<text x="592.0" y="215.9" font-size="10" fill="#383838" text-anchor="middle">Month</text>
<text transform="translate(475.4,104.9) rotate(-90)" font-size="9.8" fill="#383838" text-anchor="middle">Flood frequency (%)</text>
<text x="592.0" y="9.6" font-size="8.2" font-weight="bold" fill="#111" text-anchor="middle" textLength="51.43" lengthAdjust="spacingAndGlyphs">Continental</text>
<text x="503.0" y="10.4" font-size="12.5" font-weight="bold" fill="#000">c</text>
<rect x="32.5" y="241.3" width="183.1" height="185.0" fill="none" stroke="#666" stroke-width="0.9"/>
<g clip-path="url(#clipd)">
<path d="M32.7,338.4 L36.2,341.2 L40.3,344.7 L43.1,348.9 L45.0,352.5 L49.7,364.2 L52.8,376.0 L54.8,380.0 L57.0,383.1 L61.2,387.9 L65.3,386.5 L66.7,389.3 L69.5,394.9 L73.7,401.8 L77.9,406.7 L82.0,409.5 L86.2,412.9 L90.4,416.4 L93.0,418.5 L94.4,419.2 L97.2,416.4 L102.7,418.5 L108.3,419.2 L113.8,418.5 L120.8,419.9 L127.7,421.3 L134.7,421.3 L138.9,420.6 L144.4,422.0 L151.4,422.0 L154.0,422.0 L155.4,423.1 L159.6,422.0 L165.1,418.5 L169.3,416.4 L172.1,417.1 L176.2,409.5 L180.4,404.6 L184.6,399.1 L188.1,401.8 L191.5,387.2 L196.8,375.1 L200.4,364.6 L203.1,359.3 L204.4,356.6 L206.7,362.0 L209.4,362.9 L212.1,361.1 L213.4,362.0" fill="none" stroke="#a5a8c2" stroke-width="1.0" stroke-linejoin="round"/>
<path d="M32.7,347.5 L36.2,348.2 L40.3,350.9 L43.1,353.0 L45.0,352.8 L49.7,365.0 L52.8,376.8 L54.4,380.3 L55.6,388.6 L58.4,394.2 L61.2,397.0 L64.0,396.3 L66.0,401.1 L68.1,406.7 L72.3,410.9 L76.5,414.3 L80.6,415.0 L84.8,417.1 L89.0,420.6 L93.0,421.3 L94.4,420.6 L97.2,417.1 L102.7,419.2 L106.9,420.6 L112.5,417.1 L118.0,419.9 L123.6,422.0 L129.1,423.4 L134.7,422.0 L141.6,422.7 L148.6,423.4 L154.0,423.4 L155.4,422.7 L159.6,420.6 L163.7,416.4 L167.9,411.6 L172.1,413.7 L176.2,408.1 L180.4,402.5 L184.6,395.6 L188.8,387.2 L192.9,380.3 L195.0,375.1 L198.6,367.3 L201.3,357.5 L203.1,353.0 L204.9,346.7 L207.6,346.7 L209.8,348.9 L211.6,344.0 L213.0,345.3" fill="none" stroke="#4e5172" stroke-width="1.2" stroke-linejoin="round"/>
<path d="M32.7,392.1 L38.9,394.9 L45.9,397.7 L52.8,400.4 L58.4,403.2 L64.0,399.7 L68.1,401.8 L73.7,403.2 L79.2,404.6 L84.8,406.0 L89.0,406.7 L93.0,402.5 L94.4,401.8 L98.6,402.5 L105.5,405.3 L112.5,401.4 L118.0,403.9 L125.0,404.6 L131.9,403.9 L138.9,403.2 L145.8,401.8 L151.4,399.7 L154.0,398.3 L155.4,398.1 L161.0,397.0 L167.9,395.6 L174.9,394.9 L181.8,394.2 L188.8,392.8 L195.7,392.8 L202.7,392.1 L209.6,392.8 L213.8,394.9" fill="none" stroke="#a6d0e6" stroke-width="1.0" stroke-linejoin="round"/>
<path d="M32.7,391.4 L37.6,392.8 L43.1,392.5 L48.7,397.7 L54.2,399.7 L58.4,401.8 L62.6,400.4 L68.1,401.4 L73.7,402.8 L79.2,403.9 L84.8,405.3 L89.0,406.7 L93.0,403.9 L94.4,403.9 L98.6,405.3 L105.5,407.4 L111.1,402.5 L116.6,404.6 L123.6,406.0 L130.5,406.7 L137.5,406.0 L144.4,403.2 L150.0,401.8 L154.0,400.4 L155.4,401.4 L159.6,400.4 L165.1,397.7 L170.7,396.3 L176.2,394.2 L179.0,391.4 L186.0,391.4 L192.9,390.7 L199.9,391.1 L206.8,391.4 L211.0,392.1 L213.8,397.0" fill="none" stroke="#3f86c0" stroke-width="1.25" stroke-linejoin="round"/>
<path d="M32.7,360.0 L36.2,356.5 L38.9,350.2 L41.0,347.5 L43.1,350.2 L45.0,359.1 L48.1,360.7 L50.5,355.2 L53.6,354.4 L56.8,356.0 L59.9,357.6 L61.5,362.3 L63.1,360.7 L65.4,364.6 L67.8,370.1 L70.9,374.8 L73.3,374.4 L76.4,376.4 L78.0,378.8 L79.2,381.7 L83.4,381.0 L86.2,388.6 L89.0,397.0 L91.1,403.9 L93.0,405.3 L94.4,406.7 L97.2,409.5 L102.7,410.9 L109.7,412.2 L118.0,414.3 L123.6,418.5 L127.7,422.7 L133.3,425.4 L154.0,426.3 L155.4,426.3 L181.8,426.3 L187.4,423.4 L191.5,417.8 L195.7,406.7 L198.5,397.0 L201.3,385.9 L205.4,380.3 L208.5,373.6 L210.7,371.8 L212.1,370.0 L213.4,372.7" fill="none" stroke="#eec47e" stroke-width="1.0" stroke-linejoin="round"/>
<path d="M32.7,308.6 L34.8,305.1 L36.9,310.6 L40.3,316.9 L41.7,312.7 L43.1,307.9 L44.5,311.3 L45.9,322.5 L48.0,335.0 L50.1,337.0 L51.3,345.0 L52.5,352.8 L53.2,360.7 L54.0,370.1 L54.8,371.7 L56.0,367.8 L57.6,366.2 L59.1,359.1 L60.7,357.6 L61.9,360.7 L63.4,358.7 L64.6,360.7 L65.8,367.0 L66.6,371.7 L67.8,380.0 L68.1,385.8 L70.2,394.2 L73.7,398.3 L76.5,401.1 L79.2,406.7 L82.0,409.5 L86.2,409.5 L90.4,405.3 L93.0,402.5 L94.4,402.2 L95.8,401.8 L99.9,406.7 L104.1,413.6 L108.3,419.2 L112.5,424.1 L116.6,426.3 L154.0,426.3 L155.4,426.3 L186.0,426.3 L191.5,424.8 L195.7,420.6 L199.9,412.3 L202.7,401.1 L207.6,375.1 L208.5,362.0 L209.8,350.3 L211.2,344.0 L212.1,342.2 L213.0,345.8 L213.4,353.0" fill="none" stroke="#ef8a30" stroke-width="1.2" stroke-linejoin="round"/>
</g>
<clipPath id="clipd"><rect x="32.5" y="241.3" width="183.1" height="185.4"/></clipPath>
<rect x="209.00" y="247.95" width="6.60" height="6.2" fill="#ef8a2f"/>
<rect x="32.50" y="247.95" width="17.60" height="6.2" fill="#ef8a2f"/>
<rect x="32.50" y="257.70" width="35.60" height="6.2" fill="#edc47f"/>
<rect x="198.00" y="272.32" width="17.60" height="6.2" fill="#595c74"/>
<rect x="32.50" y="272.32" width="14.50" height="6.2" fill="#595c74"/>
<rect x="199.10" y="282.07" width="16.50" height="6.2" fill="#a5a8c0"/>
<rect x="32.50" y="282.07" width="17.60" height="6.2" fill="#a5a8c0"/>
<line x1="32.5" y1="426.3" x2="34.1" y2="426.3" stroke="#666" stroke-width="0.8"/>
<line x1="32.5" y1="421.4" x2="34.1" y2="421.4" stroke="#666" stroke-width="0.8"/>
<line x1="32.5" y1="416.6" x2="34.1" y2="416.6" stroke="#666" stroke-width="0.8"/>
<line x1="32.5" y1="411.7" x2="34.1" y2="411.7" stroke="#666" stroke-width="0.8"/>
<line x1="32.5" y1="406.8" x2="34.1" y2="406.8" stroke="#666" stroke-width="0.8"/>
<line x1="32.5" y1="401.9" x2="34.1" y2="401.9" stroke="#666" stroke-width="0.8"/>
<line x1="32.5" y1="397.1" x2="34.1" y2="397.1" stroke="#666" stroke-width="0.8"/>
<line x1="32.5" y1="392.2" x2="34.1" y2="392.2" stroke="#666" stroke-width="0.8"/>
<line x1="32.5" y1="387.3" x2="34.1" y2="387.3" stroke="#666" stroke-width="0.8"/>
<line x1="32.5" y1="382.4" x2="34.1" y2="382.4" stroke="#666" stroke-width="0.8"/>
<line x1="32.5" y1="377.6" x2="34.1" y2="377.6" stroke="#666" stroke-width="0.8"/>
<line x1="32.5" y1="372.7" x2="34.1" y2="372.7" stroke="#666" stroke-width="0.8"/>
<line x1="32.5" y1="367.8" x2="34.1" y2="367.8" stroke="#666" stroke-width="0.8"/>
<line x1="32.5" y1="362.9" x2="34.1" y2="362.9" stroke="#666" stroke-width="0.8"/>
<line x1="32.5" y1="358.1" x2="34.1" y2="358.1" stroke="#666" stroke-width="0.8"/>
<line x1="32.5" y1="353.2" x2="34.1" y2="353.2" stroke="#666" stroke-width="0.8"/>
<line x1="32.5" y1="348.3" x2="34.1" y2="348.3" stroke="#666" stroke-width="0.8"/>
<line x1="32.5" y1="343.4" x2="34.1" y2="343.4" stroke="#666" stroke-width="0.8"/>
<line x1="32.5" y1="338.6" x2="34.1" y2="338.6" stroke="#666" stroke-width="0.8"/>
<line x1="32.5" y1="333.7" x2="34.1" y2="333.7" stroke="#666" stroke-width="0.8"/>
<line x1="32.5" y1="328.8" x2="34.1" y2="328.8" stroke="#666" stroke-width="0.8"/>
<line x1="32.5" y1="323.9" x2="34.1" y2="323.9" stroke="#666" stroke-width="0.8"/>
<line x1="32.5" y1="319.1" x2="34.1" y2="319.1" stroke="#666" stroke-width="0.8"/>
<line x1="32.5" y1="314.2" x2="34.1" y2="314.2" stroke="#666" stroke-width="0.8"/>
<line x1="32.5" y1="309.3" x2="34.1" y2="309.3" stroke="#666" stroke-width="0.8"/>
<line x1="32.5" y1="304.4" x2="34.1" y2="304.4" stroke="#666" stroke-width="0.8"/>
<line x1="32.5" y1="299.6" x2="34.1" y2="299.6" stroke="#666" stroke-width="0.8"/>
<line x1="32.5" y1="294.7" x2="34.1" y2="294.7" stroke="#666" stroke-width="0.8"/>
<line x1="32.5" y1="289.8" x2="34.1" y2="289.8" stroke="#666" stroke-width="0.8"/>
<line x1="32.5" y1="284.9" x2="34.1" y2="284.9" stroke="#666" stroke-width="0.8"/>
<line x1="32.5" y1="280.1" x2="34.1" y2="280.1" stroke="#666" stroke-width="0.8"/>
<line x1="32.5" y1="275.2" x2="34.1" y2="275.2" stroke="#666" stroke-width="0.8"/>
<line x1="32.5" y1="270.3" x2="34.1" y2="270.3" stroke="#666" stroke-width="0.8"/>
<line x1="32.5" y1="265.4" x2="34.1" y2="265.4" stroke="#666" stroke-width="0.8"/>
<line x1="32.5" y1="260.5" x2="34.1" y2="260.5" stroke="#666" stroke-width="0.8"/>
<line x1="32.5" y1="255.7" x2="34.1" y2="255.7" stroke="#666" stroke-width="0.8"/>
<line x1="32.5" y1="250.8" x2="34.1" y2="250.8" stroke="#666" stroke-width="0.8"/>
<line x1="32.5" y1="245.9" x2="34.1" y2="245.9" stroke="#666" stroke-width="0.8"/>
<text x="30.6" y="430.0" font-size="9.8" fill="#383838" text-anchor="end">0.00</text>
<text x="30.6" y="405.6" font-size="9.8" fill="#383838" text-anchor="end">0.25</text>
<text x="30.6" y="381.2" font-size="9.8" fill="#383838" text-anchor="end">0.50</text>
<text x="30.6" y="356.9" font-size="9.8" fill="#383838" text-anchor="end">0.75</text>
<text x="30.6" y="332.5" font-size="9.8" fill="#383838" text-anchor="end">1.00</text>
<text x="30.6" y="308.1" font-size="9.8" fill="#383838" text-anchor="end">1.25</text>
<text x="30.6" y="283.8" font-size="9.8" fill="#383838" text-anchor="end">1.50</text>
<text x="30.6" y="259.4" font-size="9.8" fill="#383838" text-anchor="end">1.75</text>
<line x1="32.5" y1="426.3" x2="32.5" y2="424.3" stroke="#666" stroke-width="0.8"/>
<text transform="translate(0,428.80) scale(1,1.24) translate(0,-428.80)" x="31.9" y="434.9" font-size="9.3" fill="#383838" text-anchor="middle">J</text>
<line x1="48.1" y1="426.3" x2="48.1" y2="424.3" stroke="#666" stroke-width="0.8"/>
<text x="48.1" y="434.9" font-size="9.3" fill="#383838" text-anchor="middle">F</text>
<line x1="62.1" y1="426.3" x2="62.1" y2="424.3" stroke="#666" stroke-width="0.8"/>
<text x="62.1" y="434.9" font-size="9.3" fill="#383838" text-anchor="middle">M</text>
<line x1="77.6" y1="426.3" x2="77.6" y2="424.3" stroke="#666" stroke-width="0.8"/>
<text x="77.6" y="434.9" font-size="9.3" fill="#383838" text-anchor="middle">A</text>
<line x1="92.7" y1="426.3" x2="92.7" y2="424.3" stroke="#666" stroke-width="0.8"/>
<text x="92.7" y="434.9" font-size="9.3" fill="#383838" text-anchor="middle">M</text>
<line x1="108.2" y1="426.3" x2="108.2" y2="424.3" stroke="#666" stroke-width="0.8"/>
<text transform="translate(0,428.80) scale(1,1.24) translate(0,-428.80)" x="107.6" y="434.9" font-size="9.3" fill="#383838" text-anchor="middle">J</text>
<line x1="123.3" y1="426.3" x2="123.3" y2="424.3" stroke="#666" stroke-width="0.8"/>
<text transform="translate(0,428.80) scale(1,1.24) translate(0,-428.80)" x="122.7" y="434.9" font-size="9.3" fill="#383838" text-anchor="middle">J</text>
<line x1="138.8" y1="426.3" x2="138.8" y2="424.3" stroke="#666" stroke-width="0.8"/>
<text x="138.8" y="434.9" font-size="9.3" fill="#383838" text-anchor="middle">A</text>
<line x1="154.4" y1="426.3" x2="154.4" y2="424.3" stroke="#666" stroke-width="0.8"/>
<text x="154.4" y="434.9" font-size="9.3" fill="#383838" text-anchor="middle">S</text>
<line x1="169.4" y1="426.3" x2="169.4" y2="424.3" stroke="#666" stroke-width="0.8"/>
<text x="169.4" y="434.9" font-size="9.3" fill="#383838" text-anchor="middle">O</text>
<line x1="185.0" y1="426.3" x2="185.0" y2="424.3" stroke="#666" stroke-width="0.8"/>
<text x="185.0" y="434.9" font-size="9.3" fill="#383838" text-anchor="middle">N</text>
<line x1="200.0" y1="426.3" x2="200.0" y2="424.3" stroke="#666" stroke-width="0.8"/>
<text x="200.0" y="434.9" font-size="9.3" fill="#383838" text-anchor="middle">D</text>
<text x="124.0" y="444.9" font-size="10" fill="#383838" text-anchor="middle">Month</text>
<text transform="translate(7.4,333.8) rotate(-90)" font-size="9.8" fill="#383838" text-anchor="middle">Flood frequency (%)</text>
<text x="124.0" y="238.5" font-size="8.2" font-weight="bold" fill="#111" text-anchor="middle" textLength="34.5" lengthAdjust="spacingAndGlyphs">Atlantic</text>
<text x="35.0" y="239.3" font-size="12.5" font-weight="bold" fill="#000">d</text>
<rect x="266.3" y="241.3" width="183.09999999999997" height="185.0" fill="none" stroke="#666" stroke-width="0.9"/>
<g clip-path="url(#clipe)">
<path d="M266.7,367.8 L270.2,369.2 L274.3,374.7 L278.5,378.9 L281.3,367.8 L283.4,357.2 L284.8,353.7 L286.8,357.2 L289.6,362.7 L298.0,373.3 L300.7,383.1 L303.5,392.8 L306.3,399.7 L309.1,405.3 L311.9,405.3 L314.6,402.5 L318.8,406.7 L323.0,412.2 L327.0,409.5 L328.4,410.2 L331.2,412.2 L335.3,415.0 L339.5,418.5 L343.7,417.1 L347.8,419.9 L354.8,422.0 L360.3,423.4 L365.9,424.1 L372.9,424.1 L379.8,424.1 L388.0,423.4 L389.4,421.7 L395.0,420.6 L401.9,417.1 L407.5,410.9 L413.0,399.8 L417.2,392.8 L421.4,390.0 L424.1,392.1 L428.3,386.5 L432.5,381.7 L436.9,373.7 L440.5,371.9 L443.2,371.0 L445.9,369.2 L447.2,371.0 L447.8,370.6" fill="none" stroke="#a5a8c2" stroke-width="1.0" stroke-linejoin="round"/>
<path d="M266.7,370.6 L270.2,373.3 L274.3,380.3 L278.5,390.0 L281.3,384.5 L284.1,376.1 L285.5,373.3 L288.2,376.1 L291.0,381.7 L293.8,380.3 L296.6,378.2 L299.3,381.0 L302.1,390.0 L304.9,395.6 L309.1,398.3 L313.2,401.8 L318.8,405.3 L323.0,408.1 L327.0,409.5 L328.4,408.8 L331.2,409.5 L335.3,412.2 L340.9,414.3 L346.5,417.1 L352.0,419.9 L356.2,423.4 L360.3,424.7 L365.9,424.5 L371.5,424.7 L377.0,425.0 L382.6,424.7 L385.4,421.3 L388.0,417.8 L389.4,416.4 L393.6,412.3 L399.1,410.2 L404.7,405.3 L410.2,399.8 L413.7,388.6 L417.2,382.4 L421.4,385.9 L423.5,380.9 L425.2,371.9 L427.0,369.7 L429.7,371.0 L431.5,373.7 L433.3,371.9 L436.0,373.7 L438.7,375.5 L441.4,375.9 L444.1,379.1 L446.8,380.9 L447.8,381.7" fill="none" stroke="#4e5172" stroke-width="1.2" stroke-linejoin="round"/>
<path d="M266.7,385.8 L270.2,383.8 L274.3,387.9 L279.9,388.6 L284.1,384.5 L288.2,389.3 L292.4,391.4 L298.0,393.5 L303.5,395.6 L307.7,399.7 L313.2,401.1 L318.8,402.5 L327.0,403.2 L328.4,404.6 L332.6,406.7 L339.5,409.5 L347.8,412.9 L354.8,416.4 L360.3,419.9 L365.9,420.6 L371.5,419.9 L377.0,418.5 L382.6,415.7 L388.0,410.9 L389.4,409.8 L395.0,406.0 L401.9,401.8 L408.9,394.2 L415.8,389.3 L422.8,385.9 L428.3,384.5 L433.9,381.0 L439.4,379.6 L445.0,378.9 L447.8,380.3" fill="none" stroke="#a6d0e6" stroke-width="1.0" stroke-linejoin="round"/>
<path d="M266.7,380.3 L270.2,384.5 L274.3,388.6 L278.5,392.8 L282.7,389.3 L286.8,387.9 L291.0,387.2 L295.2,390.0 L299.3,392.8 L303.5,394.9 L307.7,398.3 L313.2,400.4 L318.8,401.8 L323.0,401.8 L327.0,403.9 L328.4,406.0 L332.6,408.1 L338.1,409.5 L343.7,412.2 L349.2,415.0 L354.8,418.5 L360.3,421.3 L365.9,421.3 L371.5,420.6 L377.0,419.2 L382.6,416.4 L388.0,412.2 L389.4,410.2 L393.6,406.7 L399.1,403.2 L403.3,399.8 L408.9,392.8 L414.4,389.3 L421.7,385.0 L426.1,381.8 L429.7,380.9 L433.3,379.1 L436.9,378.2 L440.5,377.3 L444.1,378.2 L446.8,380.9 L447.8,383.1" fill="none" stroke="#3f86c0" stroke-width="1.25" stroke-linejoin="round"/>
<path d="M266.7,350.2 L270.2,347.5 L272.3,353.0 L274.3,350.2 L277.1,344.7 L279.9,336.3 L282.0,328.0 L285.5,325.2 L288.2,318.3 L290.3,316.2 L293.1,322.5 L295.2,330.8 L298.0,336.3 L300.0,344.7 L302.1,355.8 L304.9,376.1 L307.7,385.8 L310.5,392.8 L313.2,397.0 L316.0,401.1 L318.8,406.7 L323.0,410.9 L327.0,413.6 L328.4,419.2 L331.2,422.0 L336.7,424.7 L342.3,426.3 L388.0,426.3 L413.0,426.3 L420.0,423.4 L425.5,417.8 L429.7,409.5 L433.9,397.0 L438.0,390.0 L440.8,381.7 L443.2,385.0 L444.1,378.2 L445.4,371.9 L446.8,370.1 L447.2,373.7" fill="none" stroke="#eec47e" stroke-width="1.0" stroke-linejoin="round"/>
<path d="M266.7,328.7 L268.8,330.8 L270.9,329.4 L272.3,318.3 L273.6,311.3 L275.0,308.6 L277.1,308.6 L278.5,316.9 L279.9,330.8 L281.3,327.3 L282.7,318.3 L284.8,307.9 L286.1,312.7 L287.5,322.5 L288.9,333.6 L290.3,339.1 L291.7,346.1 L293.8,344.7 L295.9,341.9 L297.3,344.7 L298.7,354.4 L300.7,376.1 L302.1,384.5 L303.5,392.8 L306.3,394.2 L309.1,390.0 L310.5,395.6 L313.2,401.1 L314.6,408.1 L317.4,413.6 L321.6,417.8 L327.0,422.0 L328.4,421.3 L329.8,422.7 L333.9,424.7 L338.1,426.3 L388.0,426.3 L410.2,426.3 L415.8,424.8 L421.4,423.4 L425.5,417.8 L429.7,405.3 L433.9,398.4 L436.7,391.4 L439.6,385.0 L440.9,374.6 L442.3,373.7 L444.1,367.4 L445.4,360.2 L446.8,356.7" fill="none" stroke="#ef8a30" stroke-width="1.2" stroke-linejoin="round"/>
</g>
<clipPath id="clipe"><rect x="266.3" y="241.3" width="183.09999999999997" height="185.4"/></clipPath>
<rect x="266.30" y="247.95" width="22.90" height="6.2" fill="#ef8a2f"/>
<rect x="272.90" y="257.70" width="26.00" height="6.2" fill="#edc47f"/>
<rect x="421.90" y="272.32" width="27.50" height="6.2" fill="#595c74"/>
<rect x="266.30" y="272.32" width="20.80" height="6.2" fill="#595c74"/>
<rect x="435.10" y="282.07" width="14.30" height="6.2" fill="#a5a8c0"/>
<rect x="266.30" y="282.07" width="27.50" height="6.2" fill="#a5a8c0"/>
<line x1="266.3" y1="426.3" x2="267.90000000000003" y2="426.3" stroke="#666" stroke-width="0.8"/>
<line x1="266.3" y1="421.4" x2="267.90000000000003" y2="421.4" stroke="#666" stroke-width="0.8"/>
<line x1="266.3" y1="416.6" x2="267.90000000000003" y2="416.6" stroke="#666" stroke-width="0.8"/>
<line x1="266.3" y1="411.7" x2="267.90000000000003" y2="411.7" stroke="#666" stroke-width="0.8"/>
<line x1="266.3" y1="406.8" x2="267.90000000000003" y2="406.8" stroke="#666" stroke-width="0.8"/>
<line x1="266.3" y1="401.9" x2="267.90000000000003" y2="401.9" stroke="#666" stroke-width="0.8"/>
<line x1="266.3" y1="397.1" x2="267.90000000000003" y2="397.1" stroke="#666" stroke-width="0.8"/>
<line x1="266.3" y1="392.2" x2="267.90000000000003" y2="392.2" stroke="#666" stroke-width="0.8"/>
<line x1="266.3" y1="387.3" x2="267.90000000000003" y2="387.3" stroke="#666" stroke-width="0.8"/>
<line x1="266.3" y1="382.4" x2="267.90000000000003" y2="382.4" stroke="#666" stroke-width="0.8"/>
<line x1="266.3" y1="377.6" x2="267.90000000000003" y2="377.6" stroke="#666" stroke-width="0.8"/>
<line x1="266.3" y1="372.7" x2="267.90000000000003" y2="372.7" stroke="#666" stroke-width="0.8"/>
<line x1="266.3" y1="367.8" x2="267.90000000000003" y2="367.8" stroke="#666" stroke-width="0.8"/>
<line x1="266.3" y1="362.9" x2="267.90000000000003" y2="362.9" stroke="#666" stroke-width="0.8"/>
<line x1="266.3" y1="358.1" x2="267.90000000000003" y2="358.1" stroke="#666" stroke-width="0.8"/>
<line x1="266.3" y1="353.2" x2="267.90000000000003" y2="353.2" stroke="#666" stroke-width="0.8"/>
<line x1="266.3" y1="348.3" x2="267.90000000000003" y2="348.3" stroke="#666" stroke-width="0.8"/>
<line x1="266.3" y1="343.4" x2="267.90000000000003" y2="343.4" stroke="#666" stroke-width="0.8"/>
<line x1="266.3" y1="338.6" x2="267.90000000000003" y2="338.6" stroke="#666" stroke-width="0.8"/>
<line x1="266.3" y1="333.7" x2="267.90000000000003" y2="333.7" stroke="#666" stroke-width="0.8"/>
<line x1="266.3" y1="328.8" x2="267.90000000000003" y2="328.8" stroke="#666" stroke-width="0.8"/>
<line x1="266.3" y1="323.9" x2="267.90000000000003" y2="323.9" stroke="#666" stroke-width="0.8"/>
<line x1="266.3" y1="319.1" x2="267.90000000000003" y2="319.1" stroke="#666" stroke-width="0.8"/>
<line x1="266.3" y1="314.2" x2="267.90000000000003" y2="314.2" stroke="#666" stroke-width="0.8"/>
<line x1="266.3" y1="309.3" x2="267.90000000000003" y2="309.3" stroke="#666" stroke-width="0.8"/>
<line x1="266.3" y1="304.4" x2="267.90000000000003" y2="304.4" stroke="#666" stroke-width="0.8"/>
<line x1="266.3" y1="299.6" x2="267.90000000000003" y2="299.6" stroke="#666" stroke-width="0.8"/>
<line x1="266.3" y1="294.7" x2="267.90000000000003" y2="294.7" stroke="#666" stroke-width="0.8"/>
<line x1="266.3" y1="289.8" x2="267.90000000000003" y2="289.8" stroke="#666" stroke-width="0.8"/>
<line x1="266.3" y1="284.9" x2="267.90000000000003" y2="284.9" stroke="#666" stroke-width="0.8"/>
<line x1="266.3" y1="280.1" x2="267.90000000000003" y2="280.1" stroke="#666" stroke-width="0.8"/>
<line x1="266.3" y1="275.2" x2="267.90000000000003" y2="275.2" stroke="#666" stroke-width="0.8"/>
<line x1="266.3" y1="270.3" x2="267.90000000000003" y2="270.3" stroke="#666" stroke-width="0.8"/>
<line x1="266.3" y1="265.4" x2="267.90000000000003" y2="265.4" stroke="#666" stroke-width="0.8"/>
<line x1="266.3" y1="260.5" x2="267.90000000000003" y2="260.5" stroke="#666" stroke-width="0.8"/>
<line x1="266.3" y1="255.7" x2="267.90000000000003" y2="255.7" stroke="#666" stroke-width="0.8"/>
<line x1="266.3" y1="250.8" x2="267.90000000000003" y2="250.8" stroke="#666" stroke-width="0.8"/>
<line x1="266.3" y1="245.9" x2="267.90000000000003" y2="245.9" stroke="#666" stroke-width="0.8"/>
<text x="264.4" y="430.0" font-size="9.8" fill="#383838" text-anchor="end">0.00</text>
<text x="264.4" y="405.6" font-size="9.8" fill="#383838" text-anchor="end">0.25</text>
<text x="264.4" y="381.2" font-size="9.8" fill="#383838" text-anchor="end">0.50</text>
<text x="264.4" y="356.9" font-size="9.8" fill="#383838" text-anchor="end">0.75</text>
<text x="264.4" y="332.5" font-size="9.8" fill="#383838" text-anchor="end">1.00</text>
<text x="264.4" y="308.1" font-size="9.8" fill="#383838" text-anchor="end">1.25</text>
<text x="264.4" y="283.8" font-size="9.8" fill="#383838" text-anchor="end">1.50</text>
<text x="264.4" y="259.4" font-size="9.8" fill="#383838" text-anchor="end">1.75</text>
<line x1="266.3" y1="426.3" x2="266.3" y2="424.3" stroke="#666" stroke-width="0.8"/>
<text transform="translate(0,428.80) scale(1,1.24) translate(0,-428.80)" x="265.7" y="434.9" font-size="9.3" fill="#383838" text-anchor="middle">J</text>
<line x1="281.9" y1="426.3" x2="281.9" y2="424.3" stroke="#666" stroke-width="0.8"/>
<text x="281.9" y="434.9" font-size="9.3" fill="#383838" text-anchor="middle">F</text>
<line x1="295.9" y1="426.3" x2="295.9" y2="424.3" stroke="#666" stroke-width="0.8"/>
<text x="295.9" y="434.9" font-size="9.3" fill="#383838" text-anchor="middle">M</text>
<line x1="311.4" y1="426.3" x2="311.4" y2="424.3" stroke="#666" stroke-width="0.8"/>
<text x="311.4" y="434.9" font-size="9.3" fill="#383838" text-anchor="middle">A</text>
<line x1="326.5" y1="426.3" x2="326.5" y2="424.3" stroke="#666" stroke-width="0.8"/>
<text x="326.5" y="434.9" font-size="9.3" fill="#383838" text-anchor="middle">M</text>
<line x1="342.0" y1="426.3" x2="342.0" y2="424.3" stroke="#666" stroke-width="0.8"/>
<text transform="translate(0,428.80) scale(1,1.24) translate(0,-428.80)" x="341.4" y="434.9" font-size="9.3" fill="#383838" text-anchor="middle">J</text>
<line x1="357.1" y1="426.3" x2="357.1" y2="424.3" stroke="#666" stroke-width="0.8"/>
<text transform="translate(0,428.80) scale(1,1.24) translate(0,-428.80)" x="356.5" y="434.9" font-size="9.3" fill="#383838" text-anchor="middle">J</text>
<line x1="372.6" y1="426.3" x2="372.6" y2="424.3" stroke="#666" stroke-width="0.8"/>
<text x="372.6" y="434.9" font-size="9.3" fill="#383838" text-anchor="middle">A</text>
<line x1="388.2" y1="426.3" x2="388.2" y2="424.3" stroke="#666" stroke-width="0.8"/>
<text x="388.2" y="434.9" font-size="9.3" fill="#383838" text-anchor="middle">S</text>
<line x1="403.2" y1="426.3" x2="403.2" y2="424.3" stroke="#666" stroke-width="0.8"/>
<text x="403.2" y="434.9" font-size="9.3" fill="#383838" text-anchor="middle">O</text>
<line x1="418.8" y1="426.3" x2="418.8" y2="424.3" stroke="#666" stroke-width="0.8"/>
<text x="418.8" y="434.9" font-size="9.3" fill="#383838" text-anchor="middle">N</text>
<line x1="433.8" y1="426.3" x2="433.8" y2="424.3" stroke="#666" stroke-width="0.8"/>
<text x="433.8" y="434.9" font-size="9.3" fill="#383838" text-anchor="middle">D</text>
<text x="357.9" y="444.9" font-size="10" fill="#383838" text-anchor="middle">Month</text>
<text transform="translate(241.2,333.8) rotate(-90)" font-size="9.8" fill="#383838" text-anchor="middle">Flood frequency (%)</text>
<text x="357.9" y="238.5" font-size="8.2" font-weight="bold" fill="#111" text-anchor="middle" textLength="40.76" lengthAdjust="spacingAndGlyphs">Southern</text>
<text x="268.8" y="239.3" font-size="12.5" font-weight="bold" fill="#000">e</text>
<line x1="516.6" y1="269.5" x2="545.7" y2="269.5" stroke="#a5a8c2" stroke-width="1.5"/>
<text x="553.6" y="270.2" font-size="11.6" fill="#222">Flood, base</text>
<line x1="516.6" y1="290.5" x2="545.7" y2="290.5" stroke="#4e5172" stroke-width="1.5"/>
<text x="553.6" y="294.3" font-size="11.6" fill="#222">Flood, +3°C</text>
<line x1="516.6" y1="322.7" x2="545.7" y2="322.7" stroke="#a6d0e6" stroke-width="1.5"/>
<text x="553.6" y="322.3" font-size="11.6" fill="#222">Rainfall, base</text>
<line x1="516.6" y1="344.0" x2="545.7" y2="344.0" stroke="#3f86c0" stroke-width="1.5"/>
<text x="553.6" y="346.0" font-size="11.6" fill="#222">Rainfall, +3°C</text>
<line x1="516.6" y1="377.7" x2="545.7" y2="377.7" stroke="#eec47e" stroke-width="1.5"/>
<text x="553.6" y="380.9" font-size="11.6" fill="#222">Snowmelt, base</text>
<line x1="516.6" y1="399.5" x2="545.7" y2="399.5" stroke="#ef8a30" stroke-width="1.5"/>
<text x="553.6" y="401.8" font-size="11.6" fill="#222">Snowmelt, +3°C</text>
</svg></body></html>
